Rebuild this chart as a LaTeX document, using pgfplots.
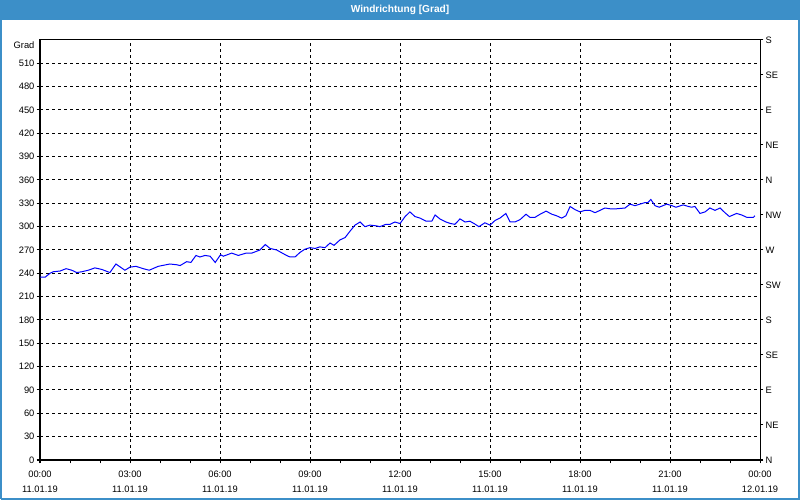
\documentclass[border=0pt]{standalone}
\usepackage{fontspec}
\setmainfont{Liberation Sans}
\usepackage{pgfplots}
\pgfplotsset{compat=1.18}
\definecolor{barblue}{RGB}{60,143,200}
\definecolor{lineblue}{RGB}{0,0,255}
\pgfplotstableread{
h deg
0.00 235
0.17 235
0.33 240
0.44 242
0.67 243
0.87 246
1.06 244
1.22 241
1.39 242
1.61 244
1.83 247
2.06 245
2.33 241
2.53 252
2.83 244
3.00 248
3.20 249
3.44 246
3.64 244
3.94 249
4.33 252
4.56 251
4.67 250
4.89 255
5.03 254
5.20 263
5.33 261
5.50 263
5.67 262
5.84 254
6.02 264
6.11 262
6.39 266
6.61 263
6.87 266
7.06 266
7.33 270
7.51 277
7.67 272
7.89 270
8.17 264
8.33 261
8.50 261
8.67 267
8.83 271
9.00 273
9.17 272
9.33 274
9.50 273
9.67 279
9.80 276
10.00 283
10.17 286
10.33 294
10.50 302
10.67 306
10.83 300
11.00 302
11.22 301
11.33 300
11.53 303
11.67 303
11.83 306
12.00 304
12.17 313
12.33 319
12.50 313
12.67 311
12.87 307
13.06 307
13.17 315
13.33 310
13.53 306
13.69 304
13.83 303
14.00 310
14.17 306
14.33 307
14.47 304
14.63 300
14.83 305
15.00 302
15.17 308
15.33 311
15.53 317
15.67 306
15.83 306
16.00 309
16.20 316
16.33 312
16.50 312
16.67 316
16.87 320
17.06 316
17.22 314
17.39 311
17.53 314
17.67 326
17.83 322
18.00 319
18.17 321
18.33 321
18.50 318
18.67 321
18.83 324
19.00 323
19.22 323
19.50 324
19.67 329
19.83 327
20.00 329
20.17 331
20.26 331
20.36 335
20.50 327
20.64 325
20.89 329
21.06 327
21.20 325
21.44 328
21.61 326
21.72 325
21.83 326
22.00 317
22.17 319
22.33 324
22.50 321
22.67 324
22.83 318
22.98 313
23.22 317
23.39 315
23.56 312
23.78 312
23.83 314
}\winddata
\begin{document}
\begin{tikzpicture}[font=\fontsize{7}{8.4}\selectfont]
\useasboundingbox (0,0) rectangle (600pt,375pt);
\fill[white] (0,0) rectangle (600pt,375pt);
\fill[barblue] (0,360pt) rectangle (600pt,375pt);
\node[white, font=\fontsize{7.6}{9}\selectfont\bfseries] at (300pt,367.5pt) {Windrichtung [Grad]};
\draw[barblue, line width=1.5pt] (0.75pt,0.75pt) -- (599.25pt,0.75pt) -- (599.25pt,360pt) (0.75pt,0.75pt) -- (0.75pt,360pt);
\begin{axis}[
  at={(30pt,30pt)}, anchor=south west,
  scale only axis, width=540pt, height=315pt,
  xmin=0, xmax=24, ymin=0, ymax=540,
  xtick={0,3,...,24}, minor x tick num=2,
  ytick={0,30,...,510},
  xticklabels={{00:00\\11.01.19},{03:00\\11.01.19},{06:00\\11.01.19},{09:00\\11.01.19},{12:00\\11.01.19},{15:00\\11.01.19},{18:00\\11.01.19},{21:00\\11.01.19},{00:00\\12.01.19}},
  xticklabel style={align=center, font=\fontsize{7}{11.25}\selectfont, yshift=-2pt},
  yticklabel style={inner sep=1.5pt},
  /pgf/number format/assume math mode=true,
  grid=major,
  major grid style={black, dash pattern=on 2.25pt off 2.25pt, line width=0.75pt},
  axis line style={black, line width=0.75pt},
  tick align=outside,
  major tick length=2.5pt, minor tick length=2.5pt,
  every tick/.style={black, line width=0.75pt},
  xtick pos=bottom, ytick pos=left,
]
\addplot[lineblue, line width=0.75pt] table[x=h, y=deg] {\winddata};
\end{axis}
\begin{axis}[
  at={(30pt,30pt)}, anchor=south west,
  scale only axis, width=540pt, height=315pt,
  xmin=0, xmax=24, ymin=0, ymax=540,
  axis x line=none, axis y line*=right,
  ytick={0,45,...,540},
  yticklabels={N,NE,E,SE,S,SW,W,NW,N,NE,E,SE,S},
  yticklabel style={inner sep=1.5pt},
  axis line style={black, line width=0.75pt, -},
  tick align=outside,
  major tick length=2.5pt,
  every tick/.style={black, line width=0.75pt},
]
\addplot[draw=none] coordinates {(0,0)};
\end{axis}
\node[anchor=base east, inner sep=0pt] at (26pt,338.6pt) {Grad};
\end{tikzpicture}
\end{document}
